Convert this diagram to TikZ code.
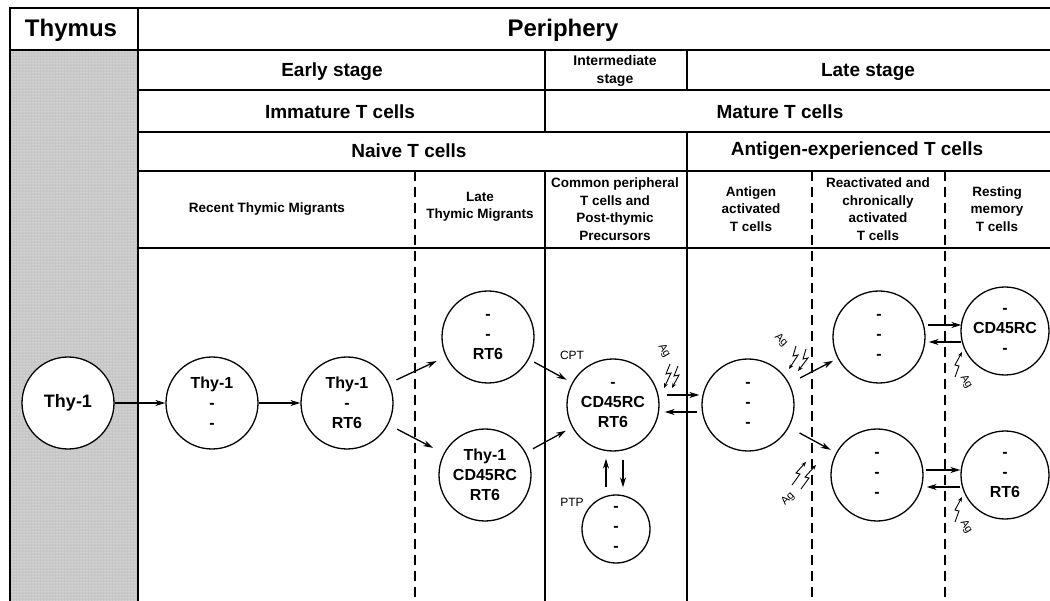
\documentclass[tikz,border=0pt]{standalone}
\usepackage{fontspec}
\setmainfont{Liberation Sans}
\usepackage{tikz}
\usetikzlibrary{arrows.meta,patterns,positioning}

\begin{document}
\begin{tikzpicture}[
				x=1pt, y=-1pt,
				node distance={135pt},
				thick,
				frame/.style = {line width=1.6pt},
				split/.style = {line width=1.3pt, dash pattern=on 10pt off 6pt},
				cell/.style = {draw, circle, fill=white, line width=1.3pt, minimum size=92pt, inner sep=0pt,
					align=center, font=\fontsize{16}{20}\selectfont\bfseries},
				big/.style = {font=\fontsize{24}{28}\selectfont\bfseries},
				head/.style = {font=\fontsize{19}{22}\selectfont\bfseries},
				sub/.style = {font=\fontsize{13.5}{17.5}\selectfont\bfseries, align=center},
				tag/.style = {font=\fontsize{12}{13}\selectfont},
				ag/.style = {font=\fontsize{11}{12}\selectfont, inner sep=0pt},
				arrow/.style = {-{Stealth[length=10pt, width=6pt]}, line width=1.3pt},
				bolt/.style = {-{Stealth[length=5pt, width=4pt]}, line width=0.9pt}
				]
				\useasboundingbox (0,0) rectangle (1050,601);
				
				% thymus column
				\fill[black!22] (10,50) rectangle (138,601);
				\fill[pattern=dots, pattern color=white] (10,50) rectangle (138,601);
				
				% table lines
				\draw[frame] (10,601) -- (10,8) -- (1050,8);
				\draw[frame] (10,50) -- (1050,50);
				\draw[frame, line width=2.6pt] (138,8) -- (138,601);
				\foreach \y in {90,132,171,248}
					\draw[frame] (138,\y) -- (1050,\y);
				\draw[frame] (545,50) -- (545,132);
				\draw[frame] (545,171) -- (545,601);
				\draw[frame] (687,50) -- (687,90);
				\draw[frame] (687,132) -- (687,601);
				\foreach \x in {415,812,945}
					\draw[split] (\x,171) -- (\x,601);
				
				% headings
				\node[big] (thymus) at (71,30) {Thymus};
				\node[big] (periphery) at (563,30) {Periphery};
				\node[head] (early) at (332,72) {Early stage};
				\node[sub, font=\fontsize{14}{18}\selectfont\bfseries] (inter) at (615,71) {Intermediate\\stage};
				\node[head] (late) at (868,72) {Late stage};
				\node[head] (immature) at (340,112) {Immature T cells};
				\node[head] (mature) at (780,112) {Mature T cells};
				\node[head] (naive) at (409,151) {Naive T cells};
				\node[head] (experienced) at (857,151) {Antigen-experienced T cells};
				
				\node[sub] (rtmhead) at (267,209) {Recent Thymic Migrants};
				\node[sub] (ltmhead) at (480,207) {Late\\Thymic Migrants};
				\node[sub] (cpthead) at (615,209) {Common peripheral\\T cells and\\Post-thymic\\Precursors};
				\node[sub] (aahead) at (751,209) {Antigen\\activated\\T cells};
				\node[sub] (rahead) at (878,209) {Reactivated and\\chronically\\activated\\T cells};
				\node[sub] (rmhead) at (997,209) {Resting\\memory\\T cells};
				
				% cells
				\node[cell, font=\fontsize{18}{20}\selectfont\bfseries] (thy) at (68,403) {Thy-1};
				\node[cell] (rtm1) at (212,403) {Thy-1\\-\\-};
				\node[cell] (rtm2) [right of=rtm1] {Thy-1\\-\\RT6};
				\node[cell] (ltm1) at (488,337) {-\\-\\RT6};
				\node[cell] (ltm2) at (485,475) {Thy-1\\CD45RC\\RT6};
				\node[cell] (cpt) at (613,405) {-\\CD45RC\\RT6};
				\node[cell, minimum size=68pt] (ptp) at (616,529) {-\\-\\-};
				\node[cell] (aa) at (748,405) {-\\-\\-};
				\node[cell] (rat) at (879,337) {-\\-\\-};
				\node[cell] (rab) at (877,475) {-\\-\\-};
				\node[cell, minimum size=88pt] (rmt) at (1005,331) {-\\CD45RC\\-};
				\node[cell, minimum size=88pt] (rmb) at (1005,475) {-\\-\\RT6};
				
				\node[tag] (cptlab) at (572,355) {CPT};
				\node[tag] (ptplab) at (572,502) {PTP};
				
				% transitions
				\draw[arrow] (thy) -- (rtm1);
				\draw[arrow] (rtm1) -- (rtm2);
				\draw[arrow, shorten <=8pt, shorten >=10pt] (rtm2) -- (ltm1);
				\draw[arrow, shorten <=10pt, shorten >=12pt] (rtm2) -- (ltm2);
				\draw[arrow, shorten <=6pt, shorten >=6pt] (ltm1) -- (cpt);
				\draw[arrow, shorten <=8pt, shorten >=7pt] (ltm2) -- (cpt);
				\draw[arrow] ([shift={(7pt,10pt)}]cpt.east) -- ([shift={(-2pt,10pt)}]aa.west);
				\draw[arrow] ([shift={(-4pt,-7pt)}]aa.west) -- ([shift={(5pt,-7pt)}]cpt.east);
				\draw[arrow, shorten <=7pt, shorten >=7pt] ([xshift=-10pt]ptp.north) -- ([xshift=-7pt]cpt.south);
				\draw[arrow, shorten <=8pt, shorten >=7pt] ([xshift=10pt]cpt.south) -- ([xshift=7pt]ptp.north);
				\draw[arrow, shorten <=12pt, shorten >=5pt] (aa) -- (rat);
				\draw[arrow, shorten <=12pt, shorten >=6pt] (aa) -- (rab);
				\draw[arrow] ([shift={(2pt,12pt)}]rat.east) -- ([shift={(1pt,6pt)}]rmt.west);
				\draw[arrow] ([shift={(1pt,-11pt)}]rmt.west) -- ([shift={(3pt,-5pt)}]rat.east);
				\draw[arrow] ([shift={(2pt,5pt)}]rab.east) -- ([shift={(0pt,5pt)}]rmb.west);
				\draw[arrow] ([shift={(0pt,-12pt)}]rmb.west) -- ([shift={(3pt,-12pt)}]rab.east);
				
				% antigen signals
				\node[ag, rotate=-60] (ag1) at (664,351) {Ag};
				\coordinate (ag1a) at (664,388);
				\coordinate (ag1b) at (672,388);
				\draw[bolt] (670,364) -- ++(-4,10) -- ++(5,-1) -- (ag1a);
				\draw[bolt] (678,366) -- ++(-4,10) -- ++(5,-1) -- (ag1b);
				
				\node[ag, rotate=-45] (ag2) at (781,340) {Ag};
				\coordinate (ag2a) at (789,369);
				\coordinate (ag2b) at (798,371);
				\draw[bolt] (796,346) -- ++(-3,10) -- ++(5,-1) -- (ag2a);
				\draw[bolt] (806,349) -- ++(-3,10) -- ++(5,-1) -- (ag2b);
				
				\node[ag, rotate=45] (ag3) at (788,499) {Ag};
				\coordinate (ag3a) at (806,462);
				\coordinate (ag3b) at (816,465);
				\draw[bolt] (792,485) -- ++(8,-11) -- ++(-4,-1) -- (ag3a);
				\draw[bolt] (801,489) -- ++(8,-11) -- ++(-4,-1) -- (ag3b);
				
				\node[ag, rotate=-60] (ag4) at (966,382) {Ag};
				\coordinate (ag4a) at (962,352);
				\draw[bolt] (955,377) -- (959,366) -- (955,365) -- (ag4a);
				
				\node[ag, rotate=-60] (ag5) at (966,527) {Ag};
				\coordinate (ag5a) at (962,497);
				\draw[bolt] (955,522) -- (959,511) -- (955,510) -- (ag5a);
			\end{tikzpicture}
\end{document}
